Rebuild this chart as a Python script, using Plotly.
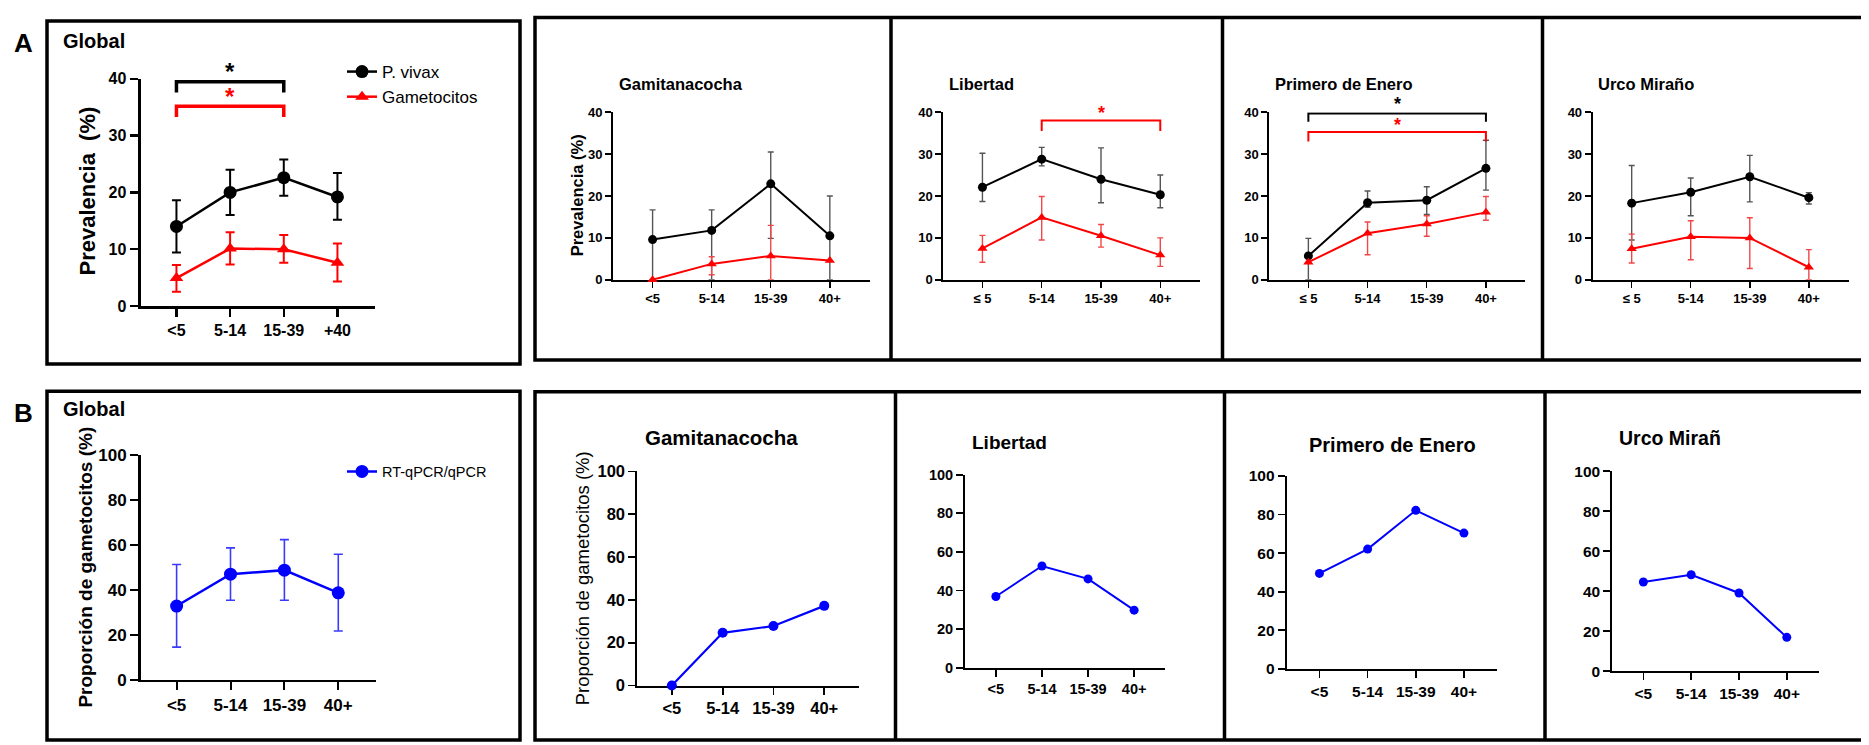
import plotly.graph_objects as go

W, H = 1869, 745
PAGE_MARGIN = 8  # default body margin of the page; layout positions are compensated for it

# ---------------- categories ----------------
ages_global_a = ["<5", "5-14", "15-39", "+40"]
ages_lt = ["<5", "5-14", "15-39", "40+"]
ages_le = ["≤ 5", "5-14", "15-39", "40+"]

# ---------------- Panel A: prevalence (%) with CI ----------------
glob_pv = [14.0, 20.0, 22.6, 19.2]
glob_pv_lo = [9.4, 16.0, 19.4, 15.2]
glob_pv_hi = [18.6, 24.0, 25.8, 23.4]
glob_gam = [4.9, 10.1, 10.0, 7.6]
glob_gam_lo = [2.5, 7.3, 7.6, 4.3]
glob_gam_hi = [7.2, 13.0, 12.5, 11.0]

gami_pv = [9.6, 11.8, 22.9, 10.5]
gami_pv_lo = [0.0, 0.0, 9.9, 0.0]
gami_pv_hi = [16.7, 16.7, 30.5, 20.0]
gami_gam = [0.0, 3.8, 5.7, 4.6]
gami_gam_lo = [0.0, 1.2, 0.0, 4.6]
gami_gam_hi = [0.0, 5.5, 13.0, 4.6]

lib_pv = [22.1, 28.8, 24.0, 20.3]
lib_pv_lo = [18.7, 27.2, 18.4, 17.2]
lib_pv_hi = [30.2, 31.6, 31.5, 25.0]
lib_gam = [7.5, 14.9, 10.5, 5.9]
lib_gam_lo = [4.2, 9.5, 7.8, 3.2]
lib_gam_hi = [10.6, 19.9, 13.2, 10.0]

pri_pv = [5.7, 18.4, 19.0, 26.6]
pri_pv_lo = [0.0, 17.3, 15.6, 21.4]
pri_pv_hi = [9.9, 21.2, 22.2, 33.3]
pri_gam = [4.2, 11.1, 13.3, 16.1]
pri_gam_lo = [4.2, 6.0, 10.4, 14.2]
pri_gam_hi = [4.2, 13.8, 15.3, 19.9]

urc_pv = [18.3, 20.9, 24.6, 19.6]
urc_pv_lo = [9.5, 15.3, 18.6, 18.1]
urc_pv_hi = [27.3, 24.3, 29.7, 20.8]
urc_gam = [7.4, 10.3, 10.0, 3.0]
urc_gam_lo = [4.0, 4.8, 2.7, 0.0]
urc_gam_hi = [10.9, 14.1, 14.8, 7.2]

# ---------------- Panel B: proportion of gametocytes (%) ----------------
glob_prop = [32.8, 47.0, 48.8, 38.7]
glob_prop_lo = [14.5, 35.4, 35.4, 21.7]
glob_prop_hi = [51.3, 58.7, 62.4, 55.9]
gami_prop = [0.0, 24.6, 27.8, 37.2]
lib_prop = [36.9, 52.7, 46.0, 29.8]
pri_prop = [49.5, 62.1, 82.2, 70.4]
urc_prop = [44.6, 48.2, 39.1, 16.9]

# significance brackets: (panel, cat_from, cat_to, bracket level, drop level, star level, colour)
sig_brackets = [
    ("Ag", "<5", "15-39", 39.5, 37.6, 42.2, "black"),
    ("Ag", "<5", "15-39", 35.2, 33.3, 37.8, "red"),
    ("Alib", "5-14", "40+", 38.0, 35.5, 40.8, "red"),
    ("Apri", "≤ 5", "40+", 39.7, 37.7, 42.9, "black"),
    ("Apri", "≤ 5", "40+", 35.3, 33.0, 38.0, "red"),
]

FONT = "Liberation Sans, Arial, Helvetica, sans-serif"


def fx(px):
    return (px - PAGE_MARGIN) / W


def fy(py):
    return 1 - (py - PAGE_MARGIN) / H


# panel layout (pixel domains) and style
panels = {
    "Ag":   dict(n=1, cats=ages_global_a, xd=(140.5, 375), yd=(71.5, 304.5), xr=(-0.67, 3.7), yr=(0, 40), dt=10,
                 alw=3, tl=8, tw=2.5, tf=16),
    "Agam": dict(n=2, cats=ages_lt, xd=(613, 870), yd=(105.7, 277.7), xr=(-0.67, 3.68), yr=(0, 40), dt=10,
                 alw=2, tl=6, tw=1.5, tf=13),
    "Alib": dict(n=3, cats=ages_le, xd=(943.3, 1200), yd=(105.7, 277.7), xr=(-0.66, 3.67), yr=(0, 40), dt=10,
                 alw=2, tl=6, tw=1.5, tf=13),
    "Apri": dict(n=4, cats=ages_le, xd=(1269.3, 1525), yd=(105.7, 277.7), xr=(-0.66, 3.66), yr=(0, 40), dt=10,
                 alw=2, tl=6, tw=1.5, tf=13),
    "Aurc": dict(n=5, cats=ages_le, xd=(1592.7, 1849), yd=(105.7, 277.7), xr=(-0.66, 3.68), yr=(0, 40), dt=10,
                 alw=2, tl=6, tw=1.5, tf=13),
    "Bg":   dict(n=6, cats=ages_lt, xd=(140.5, 376), yd=(457.7, 688), xr=(-0.67, 3.7), yr=(0, 100), dt=20,
                 alw=2.5, tl=8, tw=2, tf=17),
    "Bgam": dict(n=7, cats=ages_lt, xd=(637.3, 859.3), yd=(474.3, 694), xr=(-0.68, 3.69), yr=(0, 100), dt=20,
                 alw=2, tl=7, tw=1.7, tf=16.5),
    "Blib": dict(n=8, cats=ages_lt, xd=(965, 1165), yd=(477.7, 675.7), xr=(-0.67, 3.67), yr=(0, 100), dt=20,
                 alw=2, tl=7, tw=1.7, tf=14.5),
    "Bpri": dict(n=9, cats=ages_lt, xd=(1286.7, 1496.7), yd=(479, 677), xr=(-0.68, 3.68), yr=(0, 100), dt=20,
                 alw=2, tl=7, tw=1.7, tf=15.5),
    "Burc": dict(n=10, cats=ages_lt, xd=(1612.3, 1819.3), yd=(474, 679.3), xr=(-0.65, 3.68), yr=(0, 100), dt=20,
                 alw=2, tl=7, tw=1.7, tf=15.5),
}

fig = go.Figure()
layout = dict(
    width=W, height=H, autosize=False,
    margin=dict(l=0, r=0, t=0, b=0, pad=0),
    paper_bgcolor="white", plot_bgcolor="white",
    font=dict(family=FONT, color="black"),
    hovermode=False,
)

for key, p in panels.items():
    n = p["n"]
    sx = "" if n == 1 else str(n)
    layout["xaxis" + sx] = dict(
        type="category", categoryorder="array", categoryarray=p["cats"],
        domain=[fx(p["xd"][0]), fx(p["xd"][1])], range=list(p["xr"]),
        anchor="y" + sx, showline=True, linecolor="black", linewidth=p["alw"],
        ticks="outside", ticklen=p["tl"], tickwidth=p["tw"], tickcolor="black",
        tickfont=dict(family=FONT, size=p["tf"], color="black", weight="bold"),
        showgrid=False, zeroline=False, fixedrange=True, layer="below traces",
    )
    layout["yaxis" + sx] = dict(
        domain=[fy(p["yd"][1]), fy(p["yd"][0])], range=list(p["yr"]),
        anchor="x" + sx, showline=True, linecolor="black", linewidth=p["alw"],
        ticks="outside", ticklen=p["tl"], tickwidth=p["tw"], tickcolor="black",
        tick0=0, dtick=p["dt"],
        tickfont=dict(family=FONT, size=p["tf"], color="black", weight="bold"),
        showgrid=False, zeroline=False, fixedrange=True, layer="below traces",
    )


def axes_of(key):
    n = panels[key]["n"]
    sx = "" if n == 1 else str(n)
    return "x" + sx, "y" + sx


def add_series(key, vals, lo=None, hi=None, color="black", symbol="circle", msize=9, lw=2,
               errcolor=None, errw=1.3, cap=3, name=None, legend=None):
    xa, ya = axes_of(key)
    cats = panels[key]["cats"]
    err = None
    if lo is not None:
        err = dict(type="data", symmetric=False,
                   array=[h - v for h, v in zip(hi, vals)],
                   arrayminus=[v - l for v, l in zip(vals, lo)],
                   color=errcolor or color, thickness=errw, width=cap)
    fig.add_trace(go.Scatter(
        x=cats, y=vals, xaxis=xa, yaxis=ya, mode="lines+markers",
        line=dict(color=color, width=lw),
        marker=dict(color=color, symbol=symbol, size=msize),
        error_y=err, cliponaxis=False, name=name,
        showlegend=legend is not None, legend=legend or "legend",
    ))


# Panel A global
add_series("Ag", glob_pv, glob_pv_lo, glob_pv_hi, "black", "circle", 13, 2.5, "black", 2, 4.5,
           name="P. vivax", legend="legend")
add_series("Ag", glob_gam, glob_gam_lo, glob_gam_hi, "#ff0000", "triangle-up", 12, 2.5, "#ff0000", 2, 4.5,
           name="Gametocitos", legend="legend")

# Panel A communities
for key, pv, pvl, pvh, gm, gml, gmh in [
    ("Agam", gami_pv, gami_pv_lo, gami_pv_hi, gami_gam, gami_gam_lo, gami_gam_hi),
    ("Alib", lib_pv, lib_pv_lo, lib_pv_hi, lib_gam, lib_gam_lo, lib_gam_hi),
    ("Apri", pri_pv, pri_pv_lo, pri_pv_hi, pri_gam, pri_gam_lo, pri_gam_hi),
    ("Aurc", urc_pv, urc_pv_lo, urc_pv_hi, urc_gam, urc_gam_lo, urc_gam_hi),
]:
    add_series(key, pv, pvl, pvh, "black", "circle", 9, 2, "#555555", 1.4, 3)
    add_series(key, gm, gml, gmh, "#ff0000", "triangle-up", 9, 2, "#f04848", 1.4, 3)

# Panel B
add_series("Bg", glob_prop, glob_prop_lo, glob_prop_hi, "#0000ff", "circle", 13, 2.5, "#3a3aff", 1.6, 4.5,
           name="RT-qPCR/qPCR", legend="legend2")
add_series("Bgam", gami_prop, color="#0000ff", msize=10, lw=2.2)
add_series("Blib", lib_prop, color="#0000ff", msize=9, lw=2)
add_series("Bpri", pri_prop, color="#0000ff", msize=9, lw=2)
add_series("Burc", urc_prop, color="#0000ff", msize=9, lw=2)

# significance brackets and stars
annotations = []
for key, c0, c1, ytop, ydrop, ystar, col in sig_brackets:
    xa, ya = axes_of(key)
    big = key == "Ag"
    colr = "#ff0000" if col == "red" else col
    fig.add_trace(go.Scatter(
        x=[c0, c0, c1, c1], y=[ydrop, ytop, ytop, ydrop], xaxis=xa, yaxis=ya,
        mode="lines", line=dict(color=colr, width=3.5 if big else 2),
        showlegend=False,
    ))
    cats = panels[key]["cats"]
    xm = (cats.index(c0) + cats.index(c1)) / 2
    y0r, y1r = panels[key]["yr"]
    fs = 24 if big else 18
    annotations.append(dict(
        x=xm, y=(ystar - y0r) / (y1r - y0r), xref=xa, yref=ya + " domain", text="<b>*</b>",
        showarrow=False, font=dict(family=FONT, size=fs, color=colr),
        xanchor="center", yanchor="middle", yshift=-0.23 * fs,
    ))


def txt(x, y, text, size, bold=True, xanchor="left", angle=0):
    annotations.append(dict(
        x=fx(x), y=fy(y), xref="paper", yref="paper", text=text, showarrow=False,
        font=dict(family=FONT, size=size, color="black", weight="bold" if bold else "normal"),
        xanchor=xanchor, yanchor="middle", textangle=angle,
    ))


# panel letters and titles
txt(12, 35, "A", 26)
txt(12, 414, "B", 26)
txt(61, 33, "Global", 20)
txt(61, 410, "Global", 20)
txt(617, 77, "Gamitanacocha", 16.5)
txt(946.5, 77, "Libertad", 16.5)
txt(1273.3, 77, "Primero de Enero", 16.5)
txt(1596, 77, "Urco Miraño", 16.5)
txt(642.7, 440, "Gamitanacocha", 20.5)
txt(970, 445, "Libertad", 19)
txt(1307.3, 447, "Primero de Enero", 20)
txt(1616.7, 440, "Urco Mirañ", 19.5)

# y-axis titles
txt(87, 187, "Prevalencia\u00a0 (%)", 22, xanchor="center", angle=-90)
txt(577, 191, "Prevalencia (%)", 16.5, xanchor="center", angle=-90)
txt(86, 573, "Proporción de gametocitos (%)", 19, xanchor="center", angle=-90)
txt(582, 584, "Proporción de gametocitos (%)", 18.5, bold=False, xanchor="center", angle=-90)

layout["annotations"] = annotations

# legends
layout["legend"] = dict(
    x=fx(342), y=fy(46), xanchor="left", yanchor="top", bgcolor="rgba(0,0,0,0)",
    font=dict(family=FONT, size=17, color="black"), itemwidth=30, tracegroupgap=0,
)
layout["legend2"] = dict(
    x=fx(342), y=fy(458), xanchor="left", yanchor="top", bgcolor="rgba(0,0,0,0)",
    font=dict(family=FONT, size=14.5, color="black"), itemwidth=30,
)

# frame boxes
LW = 3.5
shapes = []


def rect(x0, y0, x1, y1):
    shapes.append(dict(type="rect", xref="paper", yref="paper", x0=fx(x0), x1=fx(x1), y0=fy(y1), y1=fy(y0),
                       line=dict(color="black", width=LW), fillcolor="rgba(0,0,0,0)", layer="above"))


def vline(x, y0, y1):
    shapes.append(dict(type="line", xref="paper", yref="paper", x0=fx(x), x1=fx(x), y0=fy(y1), y1=fy(y0),
                       line=dict(color="black", width=LW), layer="above"))


rect(47, 12, 520, 364)
rect(535, 8.5, 1867.5, 360)
vline(891, 8.5, 360)
vline(1222.5, 8.5, 360)
vline(1542.5, 8.5, 360)
rect(47, 392, 520, 750)
rect(535, 392.5, 1867.5, 750)
vline(895.5, 392.5, 750)
vline(1224.5, 392.5, 750)
vline(1545, 392.5, 750)
layout["shapes"] = shapes

fig.update_layout(**layout)

fig.write_html("out.html", config={"displayModeBar": False, "staticPlot": True})
